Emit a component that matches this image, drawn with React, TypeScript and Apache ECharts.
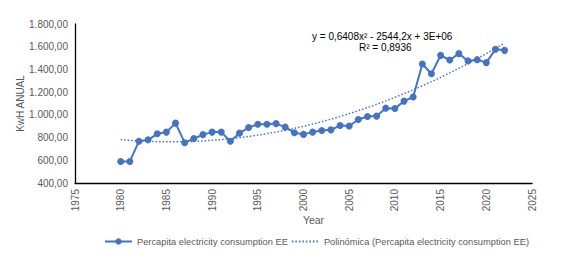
import React, { useEffect, useRef } from "react";
import * as echarts from "echarts";

const years: number[] = [
  1980, 1981, 1982, 1983, 1984, 1985, 1986, 1987, 1988, 1989, 1990, 1991, 1992, 1993, 1994, 1995,
  1996, 1997, 1998, 1999, 2000, 2001, 2002, 2003, 2004, 2005, 2006, 2007, 2008, 2009, 2010, 2011,
  2012, 2013, 2014, 2015, 2016, 2017, 2018, 2019, 2020, 2021, 2022,
];
const consumption: number[] = [
  590, 590, 768, 780, 833, 848, 927, 755, 791, 826, 848, 848, 768, 839, 888, 918,
  918, 923, 892, 843, 828, 848, 862, 868, 906, 902, 959, 986, 989, 1059, 1056, 1121,
  1157, 1448, 1362, 1524, 1483, 1539, 1475, 1486, 1460, 1577, 1568,
];
const seriesNames: string[] = [
  "Percapita electricity consumption EE",
  "Polinómica (Percapita electricity consumption EE)",
];
const equationLines: string[] = ["y = 0,6408x² - 2544,2x + 3E+06", "R² = 0,8936"];
const xAxisName = "Year";
const yAxisName = "KwH ANUAL";

// least-squares quadratic trendline fitted to the data (centered for stability)
function quadFit(xs: number[], ys: number[]) {
  const n = xs.length;
  const mx = xs.reduce((a, b) => a + b, 0) / n;
  let s0 = n, s1 = 0, s2 = 0, s3 = 0, s4 = 0, t0 = 0, t1 = 0, t2 = 0;
  for (let i = 0; i < n; i++) {
    const u = xs[i] - mx;
    const y = ys[i];
    s1 += u; s2 += u * u; s3 += u * u * u; s4 += u * u * u * u;
    t0 += y; t1 += u * y; t2 += u * u * y;
  }
  const M = [
    [s0, s1, s2, t0],
    [s1, s2, s3, t1],
    [s2, s3, s4, t2],
  ];
  for (let c = 0; c < 3; c++) {
    for (let r = c + 1; r < 3; r++) {
      const f = M[r][c] / M[c][c];
      for (let k = c; k < 4; k++) M[r][k] -= f * M[c][k];
    }
  }
  const sol = [0, 0, 0];
  for (let r = 2; r >= 0; r--) {
    let s = M[r][3];
    for (let k = r + 1; k < 3; k++) s -= M[r][k] * sol[k];
    sol[r] = s / M[r][r];
  }
  return (x: number) => {
    const u = x - mx;
    return sol[0] + sol[1] * u + sol[2] * u * u;
  };
}

function fmt(v: number) {
  const s = Math.round(v).toString().replace(/\B(?=(\d{3})+(?!\d))/g, ".");
  return s + ",00";
}

export default function App() {
  const ref = useRef<HTMLDivElement>(null);
  useEffect(() => {
    if (!ref.current) return;
    const chart = echarts.init(ref.current, null, { renderer: "svg" });
    const f = quadFit(years, consumption);
    const trend: number[][] = [];
    const x0 = years[0];
    const x1 = years[years.length - 1];
    for (let x = x0; x <= x1 + 1e-9; x += 0.25) trend.push([x, f(x)]);
    const font = "'Liberation Sans', Arial, sans-serif";
    const grey = "#595959";
    chart.setOption({
      animation: false,
      textStyle: { fontFamily: font },
      grid: { left: 75, right: 33, top: 24, bottom: 76 },
      xAxis: {
        type: "value",
        min: 1975,
        max: 2025,
        interval: 5,
        name: xAxisName,
        nameLocation: "middle",
        nameGap: 31,
        nameMoveOverlap: false,
        nameTextStyle: { fontSize: 10.5, color: grey, fontFamily: font, padding: [0, 0, 0, 20] },
        splitLine: { show: false },
        axisTick: { show: false },
        axisLine: { lineStyle: { color: "#000", width: 1.3 } },
        axisLabel: {
          rotate: 90,
          fontSize: 10,
          color: grey,
          fontFamily: font,
          margin: 6,
          formatter: (v: number) => String(v),
        },
      },
      yAxis: {
        type: "value",
        min: 400,
        max: 1800,
        interval: 200,
        name: yAxisName,
        nameLocation: "middle",
        nameGap: 50,
        nameMoveOverlap: false,
        nameTextStyle: { fontSize: 10, color: grey, fontFamily: font },
        splitLine: { show: false },
        axisTick: { show: false },
        axisLine: { show: true, lineStyle: { color: "#000", width: 1.3 } },
        axisLabel: { fontSize: 10, color: grey, fontFamily: font, margin: 7, formatter: (v: number) => fmt(v) },
      },
      legend: {
        bottom: 8,
        left: 99,
        itemWidth: 27,
        itemHeight: 8,
        itemGap: 3,
        textStyle: { fontSize: 9.3, color: grey, fontFamily: font },
        data: [
          { name: seriesNames[0] },
          { name: seriesNames[1], itemStyle: { opacity: 0 } },
        ],
      },
      graphic: [
        {
          type: "text",
          left: 312,
          top: 31,
          style: { text: equationLines[0], fontSize: 10, fill: "#000", fontFamily: font },
        },
        {
          type: "text",
          left: 359,
          top: 42,
          style: { text: equationLines[1], fontSize: 10, fill: "#000", fontFamily: font },
        },
      ],
      series: [
        {
          name: seriesNames[0],
          type: "line",
          data: years.map((y, i) => [y, consumption[i]]),
          symbol: "circle",
          symbolSize: 7,
          lineStyle: { color: "#4472C4", width: 2 },
          itemStyle: { color: "#4472C4" },
          z: 3,
        },
        {
          name: seriesNames[1],
          type: "line",
          data: trend,
          symbol: "none",
          smooth: false,
          lineStyle: { color: "#4472C4", width: 1.5, type: [1.5, 2] },
          itemStyle: { color: "#4472C4" },
          z: 2,
        },
      ],
    });
    return () => chart.dispose();
  }, []);
  return <div ref={ref} style={{ width: 565, height: 259, position: "absolute", left: 0, top: 0 }} />;
}
